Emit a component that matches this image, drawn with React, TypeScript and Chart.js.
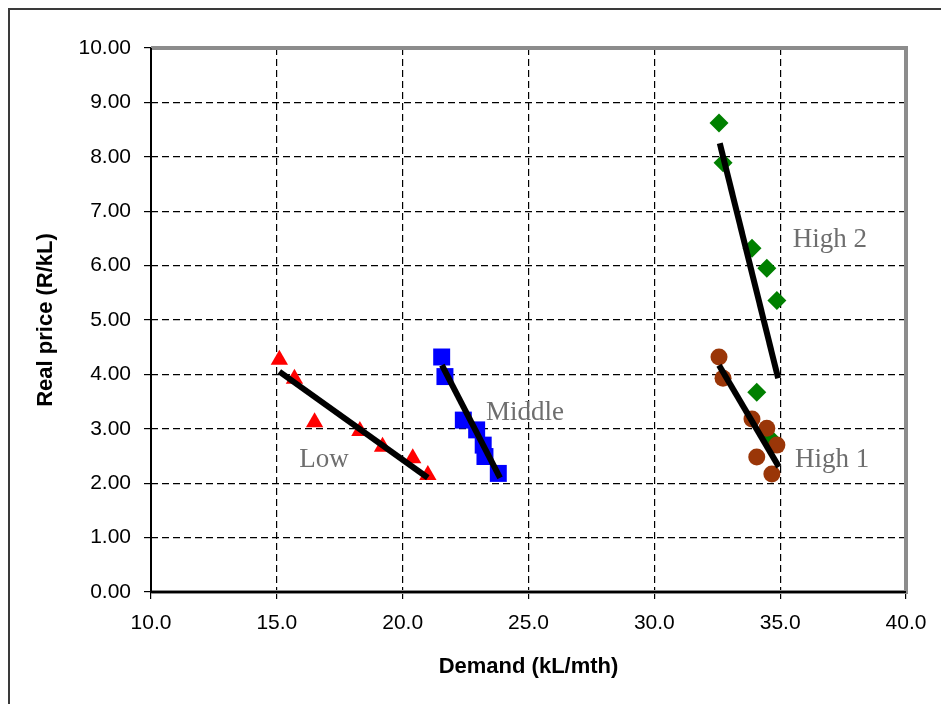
import React, { useEffect, useRef } from "react";
import { Chart, registerables } from "chart.js";

Chart.register(...registerables);

// Data
const lowX = [15.1, 15.7, 16.5, 18.3, 19.2, 20.4, 21.0];
const lowY = [4.27, 3.92, 3.12, 2.96, 2.67, 2.46, 2.15];
const midX = [21.55, 21.68, 22.41, 22.94, 23.2, 23.27, 23.8];
const midY = [4.32, 3.96, 3.16, 2.98, 2.7, 2.49, 2.18];
const high2X = [32.57, 32.73, 33.88, 34.47, 34.87, 34.07, 34.6];
const high2Y = [8.62, 7.89, 6.32, 5.95, 5.36, 3.67, 2.83];
const high1X = [32.57, 32.73, 33.88, 34.47, 34.87, 34.07, 34.67];
const high1Y = [4.32, 3.93, 3.18, 3.01, 2.7, 2.48, 2.17];

const lowTrendX = [15.1, 21.0];
const lowTrendY = [4.05, 2.1];
const midTrendX = [21.56, 23.87];
const midTrendY = [4.17, 2.1];
const high2TrendX = [32.6, 34.92];
const high2TrendY = [8.25, 3.93];
const high1TrendX = [32.57, 34.95];
const high1TrendY = [4.17, 2.3];

const groupLabels = ["Low", "Middle", "High 2", "High 1"];
const groupLabelX = [16.87, 24.86, 36.98, 37.06];
const groupLabelY = [2.43, 3.29, 6.47, 2.43];

const xTitle = "Demand (kL/mth)";
const yTitle = "Real price (R/kL)";

const pts = (xs: number[], ys: number[]) => xs.map((x, i) => ({ x, y: ys[i] }));

const framePlugin = {
  id: "frame",
  beforeDatasetsDraw(chart: any) {
    const { ctx, chartArea } = chart;
    const { left, right, top, bottom } = chartArea;
    ctx.save();
    ctx.setLineDash([]);
    ctx.strokeStyle = "#8c8c8c";
    ctx.lineWidth = 4;
    ctx.beginPath();
    ctx.moveTo(left, top);
    ctx.lineTo(right, top);
    ctx.lineTo(right, bottom);
    ctx.lineTo(left, bottom);
    ctx.stroke();
    ctx.strokeStyle = "#000";
    ctx.lineWidth = 2;
    ctx.beginPath();
    ctx.moveTo(left, top);
    ctx.lineTo(left, bottom);
    ctx.lineTo(right, bottom);
    ctx.stroke();
    ctx.restore();
  },
};

const labelPlugin = {
  id: "groupLabels",
  afterDatasetsDraw(chart: any) {
    const { ctx, scales } = chart;
    ctx.save();
    ctx.font = '27px "Liberation Serif"';
    ctx.fillStyle = "#6e6e6e";
    ctx.textAlign = "center";
    ctx.textBaseline = "middle";
    groupLabels.forEach((t, i) => {
      ctx.fillText(t, scales.x.getPixelForValue(groupLabelX[i]), scales.y.getPixelForValue(groupLabelY[i]));
    });
    ctx.restore();
  },
};

export default function App() {
  const ref = useRef<HTMLCanvasElement | null>(null);
  useEffect(() => {
    if (!ref.current) return;
    const trend = (xs: number[], ys: number[]) => ({
      data: pts(xs, ys),
      showLine: true,
      borderColor: "#000",
      borderWidth: 6,
      pointRadius: 0,
      fill: false,
    });
    const chart = new Chart(ref.current, {
      type: "scatter",
      data: {
        datasets: [
          trend(lowTrendX, lowTrendY),
          trend(midTrendX, midTrendY),
          trend(high2TrendX, high2TrendY),
          trend(high1TrendX, high1TrendY),
          {
            data: pts(high1X, high1Y),
            pointStyle: "circle",
            pointRadius: 8.5,
            backgroundColor: "#9a3608",
            borderColor: "#9a3608",
            borderWidth: 0,
          },
          {
            data: pts(high2X, high2Y),
            pointStyle: "rectRot",
            pointRadius: 9.5,
            backgroundColor: "#008000",
            borderColor: "#008000",
            borderWidth: 0,
          },
          {
            data: pts(midX, midY),
            pointStyle: "rect",
            pointRadius: 12,
            backgroundColor: "#0000ff",
            borderColor: "#0000ff",
            borderWidth: 0,
          },
          {
            data: pts(lowX, lowY),
            pointStyle: "triangle",
            pointRadius: 10,
            backgroundColor: "#ff0000",
            borderColor: "#ff0000",
            borderWidth: 0,
          },
        ] as any,
      },
      options: {
        animation: false,
        responsive: false,
        devicePixelRatio: 1,
        layout: { padding: { left: 0, top: 48, right: 35, bottom: 0 } },
        plugins: { legend: { display: false }, tooltip: { enabled: false } },
        scales: {
          x: {
            type: "linear",
            min: 10,
            max: 40,
            afterFit: (s: any) => {
              s.height = 112;
            },
            ticks: {
              stepSize: 5,
              callback: (v: any) => Number(v).toFixed(1),
              font: { family: "Liberation Sans", size: 21 },
              color: "#000",
              padding: 12,
              maxRotation: 0,
            },
            grid: {
              color: "#000",
              lineWidth: 1.2,
              tickLength: 7,
              tickColor: "#000",
              tickWidth: 1.2,
              tickBorderDash: [],
            },
            border: { display: false, dash: [7, 4] },
            title: {
              display: true,
              text: xTitle,
              font: { family: "Liberation Sans", size: 22, weight: "bold" },
              color: "#000",
              padding: { top: 0, bottom: 24 },
            },
          },
          y: {
            type: "linear",
            min: 0,
            max: 10,
            afterFit: (s: any) => {
              s.width = 151;
            },
            ticks: {
              stepSize: 1,
              callback: (v: any) => Number(v).toFixed(2),
              font: { family: "Liberation Sans", size: 21 },
              color: "#000",
              padding: 13,
            },
            grid: {
              color: "#000",
              lineWidth: 1.2,
              tickLength: 7,
              tickColor: "#000",
              tickWidth: 1.2,
              tickBorderDash: [],
            },
            border: { display: false, dash: [7, 4] },
            title: {
              display: true,
              text: yTitle,
              font: { family: "Liberation Sans", size: 22, weight: "bold" },
              color: "#000",
              padding: { top: 33, bottom: 0 },
            },
          },
        },
      } as any,
      plugins: [framePlugin, labelPlugin],
    });
    return () => chart.destroy();
  }, []);

  return (
    <div style={{ position: "fixed", left: 0, top: 0, width: 941, height: 704, overflow: "hidden", background: "#fff" }}>
      <div
        style={{
          position: "absolute",
          left: 8,
          top: 8,
          width: 1000,
          height: 800,
          border: "2px solid #3a3a3a",
          boxSizing: "border-box",
        }}
      />
      <canvas ref={ref} width={941} height={704} style={{ position: "absolute", left: 0, top: 0, display: "block" }} />
    </div>
  );
}
